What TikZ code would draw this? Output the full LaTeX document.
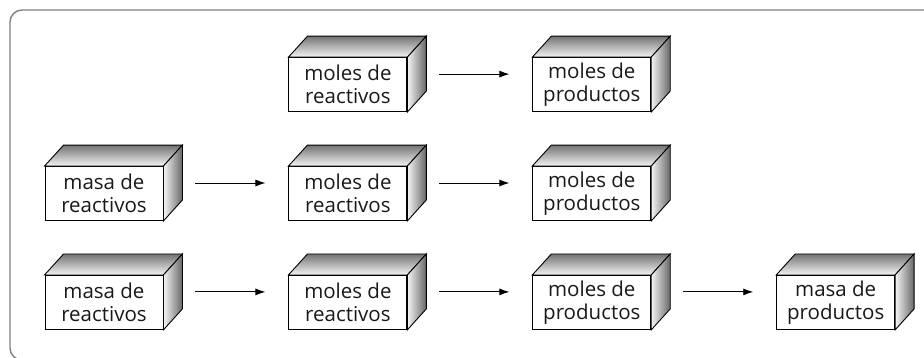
\documentclass[tikz,border=0pt]{standalone}
\usepackage{fontspec}
\setmainfont{Open Sans}
\usetikzlibrary{positioning,arrows.meta}
\begin{document}
\begin{tikzpicture}[x=1pt,y=1pt,node distance=54pt and 125pt,
caja/.style={draw, fill=white, line width=0.9pt, minimum width=118pt, minimum height=54pt, inner sep=0pt, align=center, text=black!90, font=\fontsize{20.5}{23}\selectfont},
tapa/.style={draw, line width=0.9pt, top color=black!55, bottom color=black!4},
lado/.style={draw, line width=0.9pt, left color=black!4, right color=black!60},
flecha/.style={-{Latex[length=10pt,width=7pt]}, line width=0.9pt}]
\useasboundingbox (0,0) rectangle (924,357);
\clip (0,0) rectangle (924,357);
\draw[black!50, line width=1.4pt, rounded corners=12pt] (940,347) -- (10,347) -- (10,-3) -- (940,-3);
% fila 2
\node[caja] (m2) at (104,163.5) {masa de\\reactivos};
\node[caja,right=of m2] (r2) {moles de\\reactivos};
\node[caja,right=of r2] (p2) {moles de\\productos};
% fila 1
\node[caja,above=of r2] (r1) {moles de\\reactivos};
\node[caja,above=of p2] (p1) {moles de\\productos};
% fila 3
\node[caja,below=of m2] (m3) {masa de\\reactivos};
\node[caja,right=of m3] (r3) {moles de\\reactivos};
\node[caja,right=of r3] (p3) {moles de\\productos};
\node[caja,right=of p3] (q3) {masa de\\productos};
% caras de las cajas
\foreach \n in {r1,p1,m2,r2,p2,m3,r3,p3,q3}{
  \draw[tapa] (\n.north west) -- ++(19,21) -- ([shift={(19,21)}]\n.north east) -- (\n.north east) -- cycle;
  \draw[lado] (\n.north east) -- ++(19,21) -- ([shift={(19,21)}]\n.south east) -- (\n.south east) -- cycle;
}
% flechas
\foreach \a/\b in {r1/p1,m2/r2,r2/p2,m3/r3,r3/p3,p3/q3}
  \draw[flecha] ([xshift=32pt,yshift=10.5pt]\a.east) -- ([xshift=-23pt,yshift=10.5pt]\b.west);
\end{tikzpicture}
\end{document}
